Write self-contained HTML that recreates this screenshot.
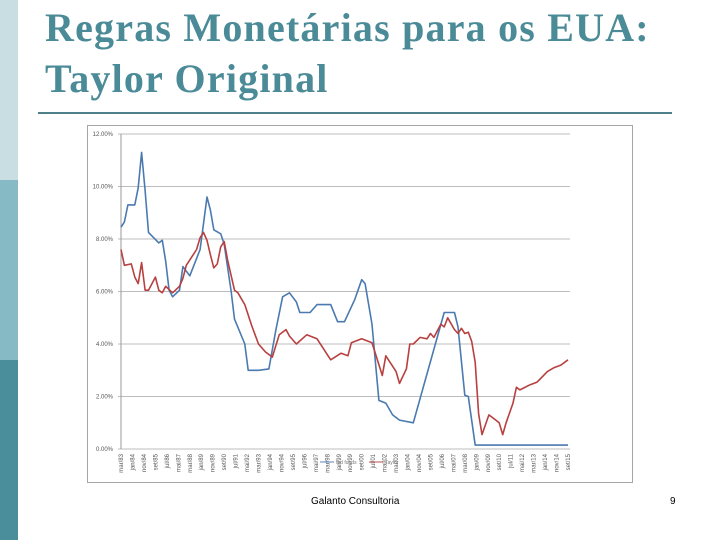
<!DOCTYPE html>
<html><head><meta charset="utf-8"><style>
body{margin:0;width:720px;height:540px;background:#fff;position:relative;overflow:hidden;font-family:"Liberation Sans",sans-serif}
.bar{position:absolute;left:0;width:18px}
#title{position:absolute;left:45px;top:2px;font-family:"Liberation Serif",serif;font-size:40px;line-height:51px;color:#4b8b98;margin:0;font-weight:bold;letter-spacing:1.2px;white-space:nowrap}
</style></head><body>
<div class="bar" style="top:0;height:180px;background:#c8dee3"></div>
<div class="bar" style="top:180px;height:180px;background:#86bac5"></div>
<div class="bar" style="top:360px;height:180px;background:#4a8e9b"></div>
<h1 id="title">Regras Monetárias para os EUA:<br>Taylor Original</h1>
<div style="position:absolute;left:38px;top:112px;width:634px;height:2px;background:#4f7f89"></div>
<svg id="chart" width="720" height="540" style="position:absolute;left:0;top:0" font-family="Liberation Sans, sans-serif"></svg>
<div style="position:absolute;left:311px;top:496px;font-size:10px;color:#000">Galanto Consultoria</div>
<div style="position:absolute;left:670px;top:496px;font-size:10px;color:#000">9</div>
<script>
const yTicks=[0,2,4,6,8,10,12];
const yTickLabels=["0.00%","2.00%","4.00%","6.00%","8.00%","10.00%","12.00%"];
const xLabels=["mar/83","jan/84","nov/84","set/85","jul/86","mai/87","mar/88","jan/89","nov/89","set/90","jul/91","mai/92","mar/93","jan/94","nov/94","set/95","jul/96","mai/97","mar/98","jan/99","nov/99","set/00","jul/01","mai/02","mar/03","jan/04","nov/04","set/05","jul/06","mai/07","mar/08","jan/09","nov/09","set/10","jul/11","mai/12","mar/13","jan/14","nov/14","set/15"];
const blueT=[0,1,2,4,5,6,7,8,11,12,13,14,15,17,18,20,23,25,26,27,29,30,32,33,36,37,40,43,45,47,49,51,52,55,57,61,63,65,68,70,71,73,75,77,79,81,85,94,97,98,100,101,103,130];
const blueV=[8.45,8.65,9.3,9.3,9.95,11.3,9.85,8.25,7.85,7.95,7.15,6.05,5.8,6.05,6.95,6.6,7.6,9.6,9.1,8.35,8.2,7.8,6.05,4.95,4.0,3.0,3.0,3.05,4.5,5.8,5.95,5.6,5.2,5.2,5.5,5.5,4.85,4.85,5.7,6.45,6.3,4.75,1.85,1.75,1.3,1.1,1.0,5.2,5.2,4.65,2.05,2.0,0.15,0.15];
const redT=[0,1,3,4,5,6,7,8,10,11,12,13,15,17,18,19,22,23,24,25,26,27,28,29,30,31,33,34,36,38,40,42,44,46,48,49,51,54,57,61,64,66,67,70,73,76,77,80,81,83,84,85,87,89,90,91,93,94,95,97,98,99,100,101,102,103,104,105,107,108,110,111,112,114,115,116,119,121,124,126,128,130];
const redV=[7.6,7.0,7.05,6.55,6.3,7.1,6.05,6.05,6.55,6.05,5.95,6.2,5.95,6.2,6.5,7.0,7.6,8.05,8.25,7.95,7.4,6.9,7.05,7.7,7.9,7.2,6.05,5.95,5.5,4.7,4.0,3.7,3.5,4.35,4.55,4.3,4.0,4.35,4.2,3.4,3.65,3.55,4.05,4.2,4.05,2.8,3.55,2.95,2.5,3.05,4.0,4.0,4.25,4.2,4.4,4.25,4.75,4.65,5.0,4.55,4.4,4.6,4.4,4.45,4.1,3.3,1.35,0.55,1.3,1.2,1.0,0.55,1.0,1.75,2.35,2.25,2.45,2.55,2.95,3.1,3.2,3.4];
const svg=document.getElementById('chart');
const NS='http://www.w3.org/2000/svg';
const X0=121,X1=568,Y0=449,PXY=26.25,TMAX=130;
const xs=t=>X0+(X1-X0)*t/TMAX;
const ys=v=>Y0-v*PXY;
function mk(tag,attrs){const e=document.createElementNS(NS,tag);for(const k in attrs)e.setAttribute(k,attrs[k]);svg.appendChild(e);return e;}
let fr=mk('rect',{x:87.5,y:125.5,width:545,height:357,fill:'none',stroke:'#a6a6a6','stroke-width':1});


yTicks.forEach((v,i)=>{
  const g=mk('line',{x1:X0-3,x2:X1+2,y1:ys(v),y2:ys(v),stroke:'#bdbdbd','stroke-width':1});
  
  
  const t=mk('text',{x:X0-8,y:ys(v)+2,'font-size':6,fill:'#555','text-anchor':'end'});
  t.textContent=yTickLabels[i];
  
  
});
const ax=mk('line',{x1:X0,x2:X0,y1:ys(12),y2:Y0,stroke:'#999','stroke-width':1});


xLabels.forEach((l,i)=>{
  const x=X0+(X1-X0)*i/(xLabels.length-1);
  const t=mk('text',{x:x+2,y:Y0+5,'font-size':6,fill:'#555','text-anchor':'end',transform:`rotate(-90 ${x+2} ${Y0+5})`});
  t.textContent=l;
  
  
});
function series(T,V,color,name){
  const d=T.map((t,i)=>(i?'L':'M')+xs(t).toFixed(1)+' '+ys(V[i]).toFixed(1)).join(' ');
  const p=mk('path',{d:d,fill:'none',stroke:color,'stroke-width':1.6,'stroke-linejoin':'round'});
  
  
}
series(blueT,blueV,'#4a7ab0','fed-funds-line');
series(redT,redV,'#b84040','taylor-rule-line');
const l1=mk('line',{x1:320,x2:334,y1:462,y2:462,stroke:'#4a7ab0','stroke-width':1.5,opacity:0.6});


const lt1=mk('text',{x:336,y:464,'font-size':5,fill:'#777'});lt1.textContent='fed funds';


const l2=mk('line',{x1:369,x2:383,y1:462,y2:462,stroke:'#b84040','stroke-width':1.5,opacity:0.6});


const lt2=mk('text',{x:385,y:464,'font-size':5,fill:'#777'});lt2.textContent='Taylor';


</script>
</body></html>
